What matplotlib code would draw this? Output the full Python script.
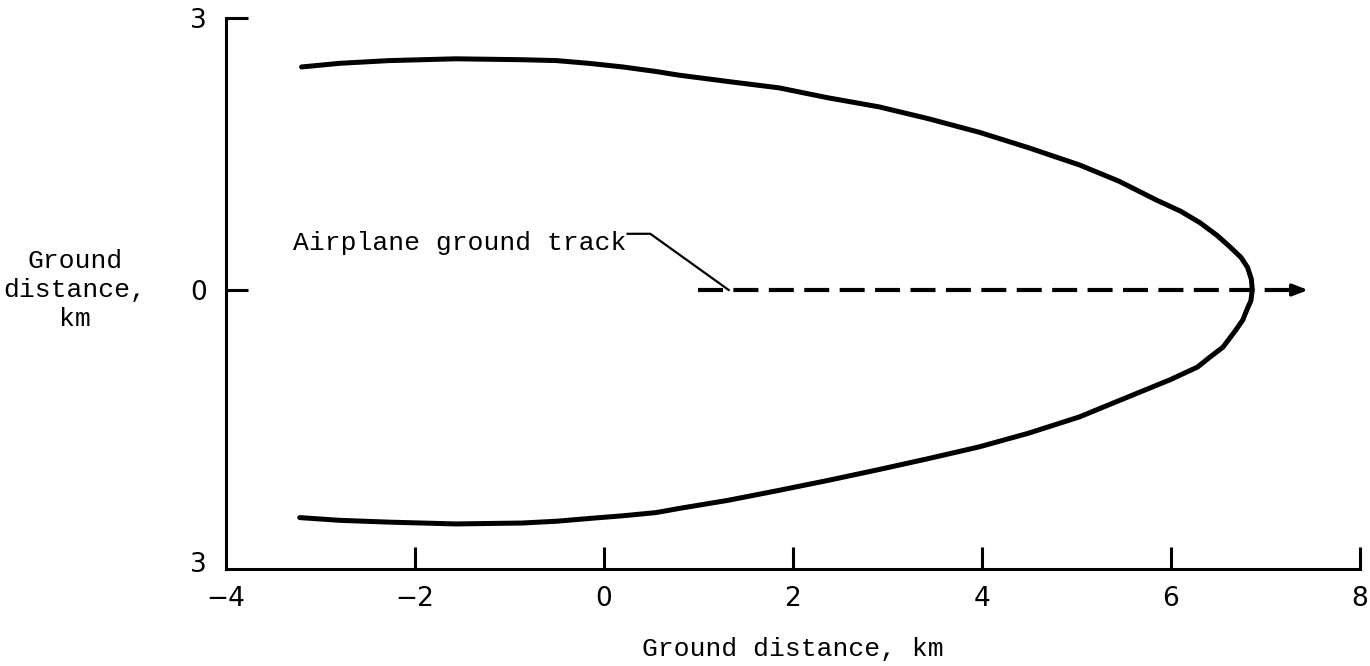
import matplotlib
matplotlib.use("Agg")
import matplotlib.pyplot as plt

# ---- boundary curve (km) ----
upper_x = [-3.20, -2.80, -2.28, -1.57, -0.87, -0.50, -0.16, 0.20, 0.55, 0.79, 1.31, 1.85,
           2.37, 2.91, 3.43, 3.97, 4.49, 5.03, 5.45, 5.85, 6.10, 6.31, 6.49, 6.63, 6.74,
           6.81, 6.85, 6.86]
upper_y = [2.46, 2.50, 2.53, 2.55, 2.54, 2.53, 2.50, 2.46, 2.41, 2.37, 2.30, 2.23,
           2.12, 2.02, 1.89, 1.74, 1.57, 1.38, 1.20, 0.99, 0.87, 0.74, 0.60, 0.47, 0.36,
           0.25, 0.12, 0.00]
lower_x = [6.845, 6.81, 6.76, 6.68, 6.55, 6.40, 6.28, 5.99, 5.45, 5.03, 4.49, 3.97, 3.43,
           2.91, 2.37, 1.85, 1.31, 0.79, 0.55, 0.20, -0.16, -0.50, -0.87, -1.57, -2.28,
           -2.80, -3.22]
lower_y = [-0.12, -0.20, -0.33, -0.45, -0.63, -0.75, -0.85, -0.99, -1.22, -1.40, -1.58, -1.73, -1.86,
           -1.98, -2.10, -2.21, -2.32, -2.41, -2.455, -2.49, -2.52, -2.55, -2.57, -2.58, -2.56,
           -2.54, -2.51]

# ground track
track_start = 1.0
track_end = 7.45

x_ticks = [-4, -2, 0, 2, 4, 6, 8]
y_ticks = [3, 0, -3]
y_tick_labels = ["3", "0", "3"]

mono = "Liberation Mono"

fig = plt.figure(figsize=(13.7, 6.66), dpi=100)
ax = fig.add_axes([226 / 1370, 97 / 666, (1360 - 226) / 1370, (569 - 18) / 666])

ax.plot(upper_x + lower_x, upper_y + lower_y, color="black", lw=3.6,
        solid_capstyle="round", solid_joinstyle="round")

# dashed ground track with arrow head
ax.plot([track_start, track_end - 0.2], [0, 0], color="black", lw=3.0,
        linestyle=(0, (6, 2.5)))
ax.annotate("", xy=(track_end, 0), xytext=(track_end - 0.25, 0),
            arrowprops=dict(arrowstyle="-|>,head_length=0.9,head_width=0.35",
                            color="black", lw=2.5, shrinkA=0, shrinkB=0))

# label with leader line
ax.text(-3.29, 0.52, "Airplane ground track", fontsize=19, family=mono,
        ha="left", va="center")
ax.plot([0.25, 0.49, 1.32], [0.62, 0.62, 0.0], color="black", lw=1.6)

ax.set_xlim(-4, 8)
ax.set_ylim(-3.077, 3)

ax.spines["top"].set_visible(False)
ax.spines["right"].set_visible(False)
ax.spines["left"].set_linewidth(2.2)
ax.spines["bottom"].set_linewidth(2.2)

ax.set_xticks(x_ticks)
ax.set_yticks(y_ticks)
ax.set_yticklabels(y_tick_labels)
ax.tick_params(axis="both", direction="in", length=16, width=2.2, labelsize=19)
ax.tick_params(axis="x", pad=12)
ax.tick_params(axis="y", pad=14)
ax.xaxis.get_major_ticks()[0].tick1line.set_visible(False)
ax.yaxis.get_major_ticks()[2].tick1line.set_visible(False)
for lab in ax.get_xticklabels() + ax.get_yticklabels():
    lab.set_family("DejaVu Sans")

ax.set_xlabel("Ground distance, km", fontsize=19, family=mono, labelpad=18)
fig.text(75 / 1370, 1 - 290 / 666, "Ground\ndistance,\nkm", fontsize=19,
         family=mono, ha="center", va="center", linespacing=1.25)

fig.savefig("out.png", dpi=100)
